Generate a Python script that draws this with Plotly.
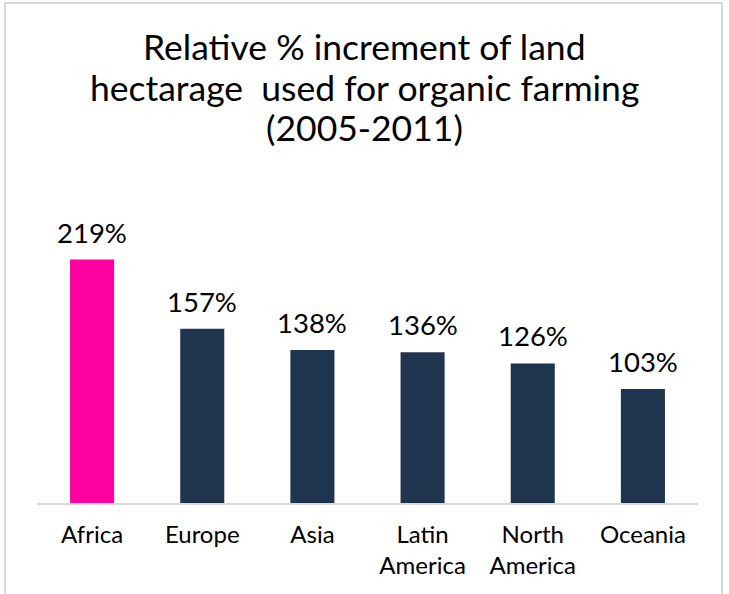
import plotly.graph_objects as go

categories = ["Africa", "Europe", "Asia", "Latin<br>America", "North<br>America", "Oceania"]
values = [219, 157, 138, 136, 126, 103]
value_labels = ["219%", "157%", "138%", "136%", "126%", "103%"]
colors = ["#FF00A0", "#1F344D", "#1F344D", "#1F344D", "#1F344D", "#1F344D"]
title_lines = ["Relative % increment of land",
               "hectarage  used for organic farming",
               "(2005-2011)"]

FONT = "Lato"
W, H = 729, 594
L, R, T, B = 37, 31, 225, 90

fig = go.Figure()
fig.add_trace(go.Bar(
    x=categories, y=values, marker=dict(color=colors, line=dict(width=0)),
    width=0.4, hoverinfo="skip",
))
for c, v, t in zip(categories, values, value_labels):
    fig.add_annotation(x=c, y=v, text=t, showarrow=False, yanchor="bottom",
                       yshift=9, font=dict(family=FONT, size=27.5, color="#000000"))

pw = W - L - R
ph = H - T - B
def px_x(p):
    return (p - L) / pw
def px_y(p):
    return (H - B - p) / ph

for line, yc in zip(title_lines, [46, 87, 128]):
    fig.add_annotation(xref="paper", yref="paper", x=px_x(W / 2), y=px_y(yc),
                       xanchor="center", yanchor="middle", showarrow=False,
                       text=line, font=dict(family=FONT, size=35.5, color="#000000"))

fig.add_shape(type="rect", xref="paper", yref="paper",
              x0=px_x(5), x1=px_x(722), y0=px_y(620), y1=px_y(3),
              line=dict(color="#D9D9D9", width=2), fillcolor="rgba(0,0,0,0)", layer="below")
fig.add_shape(type="line", xref="paper", yref="paper",
              x0=0, x1=1, y0=0, y1=0, line=dict(color="#D9D9D9", width=2))

fig.update_layout(
    width=W, height=H, margin=dict(l=L, r=R, t=T, b=B),
    paper_bgcolor="white", plot_bgcolor="white",
    showlegend=False,
    xaxis=dict(showgrid=False, showline=False, zeroline=False, ticks="outside",
               ticklen=9, tickcolor="rgba(0,0,0,0)",
               tickfont=dict(family=FONT, size=24, color="#000000")),
    yaxis=dict(range=[0, 250], visible=False),
    bargap=0.6,
)
fig.write_html("out.html", config={"displayModeBar": False},
               post_script="document.body.style.margin='0px';")
